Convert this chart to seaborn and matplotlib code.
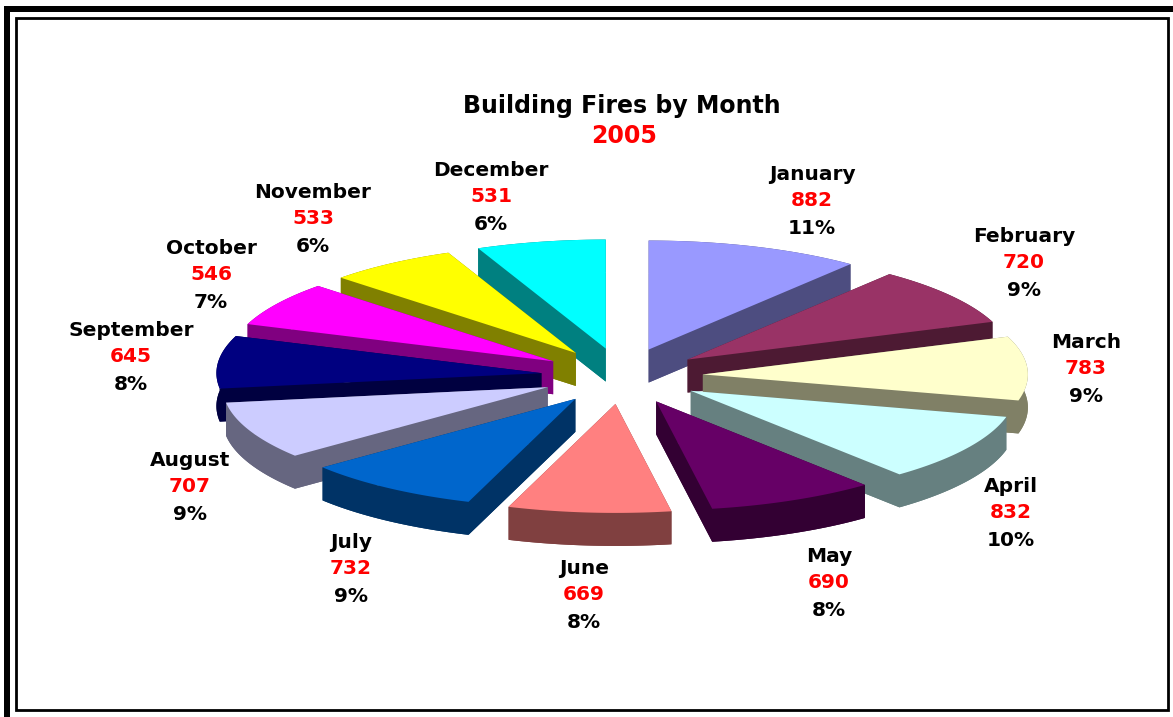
# building fires by month, exploded 3d style pie
import numpy as np
import matplotlib
matplotlib.use('Agg')
import matplotlib.pyplot as plt
from matplotlib.patches import Polygon, Rectangle
import seaborn as sns

months = ['January', 'February', 'March', 'April', 'May', 'June', 'July',
          'August', 'September', 'October', 'November', 'December']
fires = [882, 720, 783, 832, 690, 669, 732, 707, 645, 546, 533, 531]
colors = ['#9999FF', '#993366', '#FFFFCC', '#CCFFFF', '#660066', '#FF8080',
          '#0066CC', '#CCCCFF', '#000080', '#FF00FF', '#FFFF00', '#00FFFF']
title = 'Building Fires by Month'
year = '2005'

sns.set_theme(style='white')
plt.rcParams['font.family'] = ['DejaVu Sans']
palette = sns.color_palette(colors)

fig = plt.figure(figsize=(11.73, 7.17), dpi=100)
ax = fig.add_axes([0, 0, 1, 1])
ax.set_xlim(0, 1173)
ax.set_ylim(717, 0)
ax.axis('off')

# frame, thick on the left and top, thin all round inside
ax.add_patch(Rectangle((4, 6), 1173, 6, color='black', lw=0))
ax.add_patch(Rectangle((4, 6), 6, 717, color='black', lw=0))
ax.add_patch(Rectangle((16, 18), 1152, 692, fill=False, ec='black', lw=2))

# pie geometry in pixels
cx, cy = 622, 376
rx, ry = 325, 109
ex, ey = 81, 28
depth = 33

shares = np.array(fires) / sum(fires)
ends = np.cumsum(shares) * 2 * np.pi
starts = ends - shares * 2 * np.pi
mids = (starts + ends) / 2

# back slices first
for i in np.argsort(-np.cos(mids)):
    ax0 = cx + ex * np.sin(mids[i])
    ay0 = cy - ey * np.cos(mids[i])
    t = np.linspace(starts[i], ends[i], 60)
    ox = ax0 + rx * np.sin(t)
    oy = ay0 - ry * np.cos(t)
    side = tuple(c * 0.5 for c in palette[i])

    # underside, outer wall and the two cut faces
    bottom = np.r_[[(ax0, ay0 + depth)], np.c_[ox, oy + depth]]
    ax.add_patch(Polygon(bottom, color=side, lw=0))
    wall = np.r_[np.c_[ox, oy], np.c_[ox, oy + depth][::-1]]
    ax.add_patch(Polygon(wall, color=side, lw=0))
    for k in (0, -1):
        cut = [(ax0, ay0), (ox[k], oy[k]), (ox[k], oy[k] + depth), (ax0, ay0 + depth)]
        ax.add_patch(Polygon(cut, color=side, lw=0))
    top = np.r_[[(ax0, ay0)], np.c_[ox, oy]]
    ax.add_patch(Polygon(top, color=palette[i], lw=0))

# label centres, one per month
label_x = [812, 1024, 1086, 1011, 829, 584, 351, 190, 131, 211, 313, 491]
label_y = [175, 237, 343, 487, 557, 569, 543, 461, 331, 249, 193, 171]
size = 14.5
for i, m in enumerate(months):
    x, y = label_x[i], label_y[i]
    ax.text(x, y, m, ha='center', va='center', fontsize=size, fontweight='bold', color='black')
    ax.text(x, y + 26, str(fires[i]), ha='center', va='center', fontsize=size, fontweight='bold', color='red')
    ax.text(x, y + 53, '%d%%' % round(shares[i] * 100), ha='center', va='center',
            fontsize=size, fontweight='bold', color='black')

ax.text(622, 106, title, ha='center', va='center', fontsize=17, fontweight='bold', color='black')
ax.text(624, 136, year, ha='center', va='center', fontsize=17, fontweight='bold', color='red')

fig.savefig('out.png', dpi=100)
